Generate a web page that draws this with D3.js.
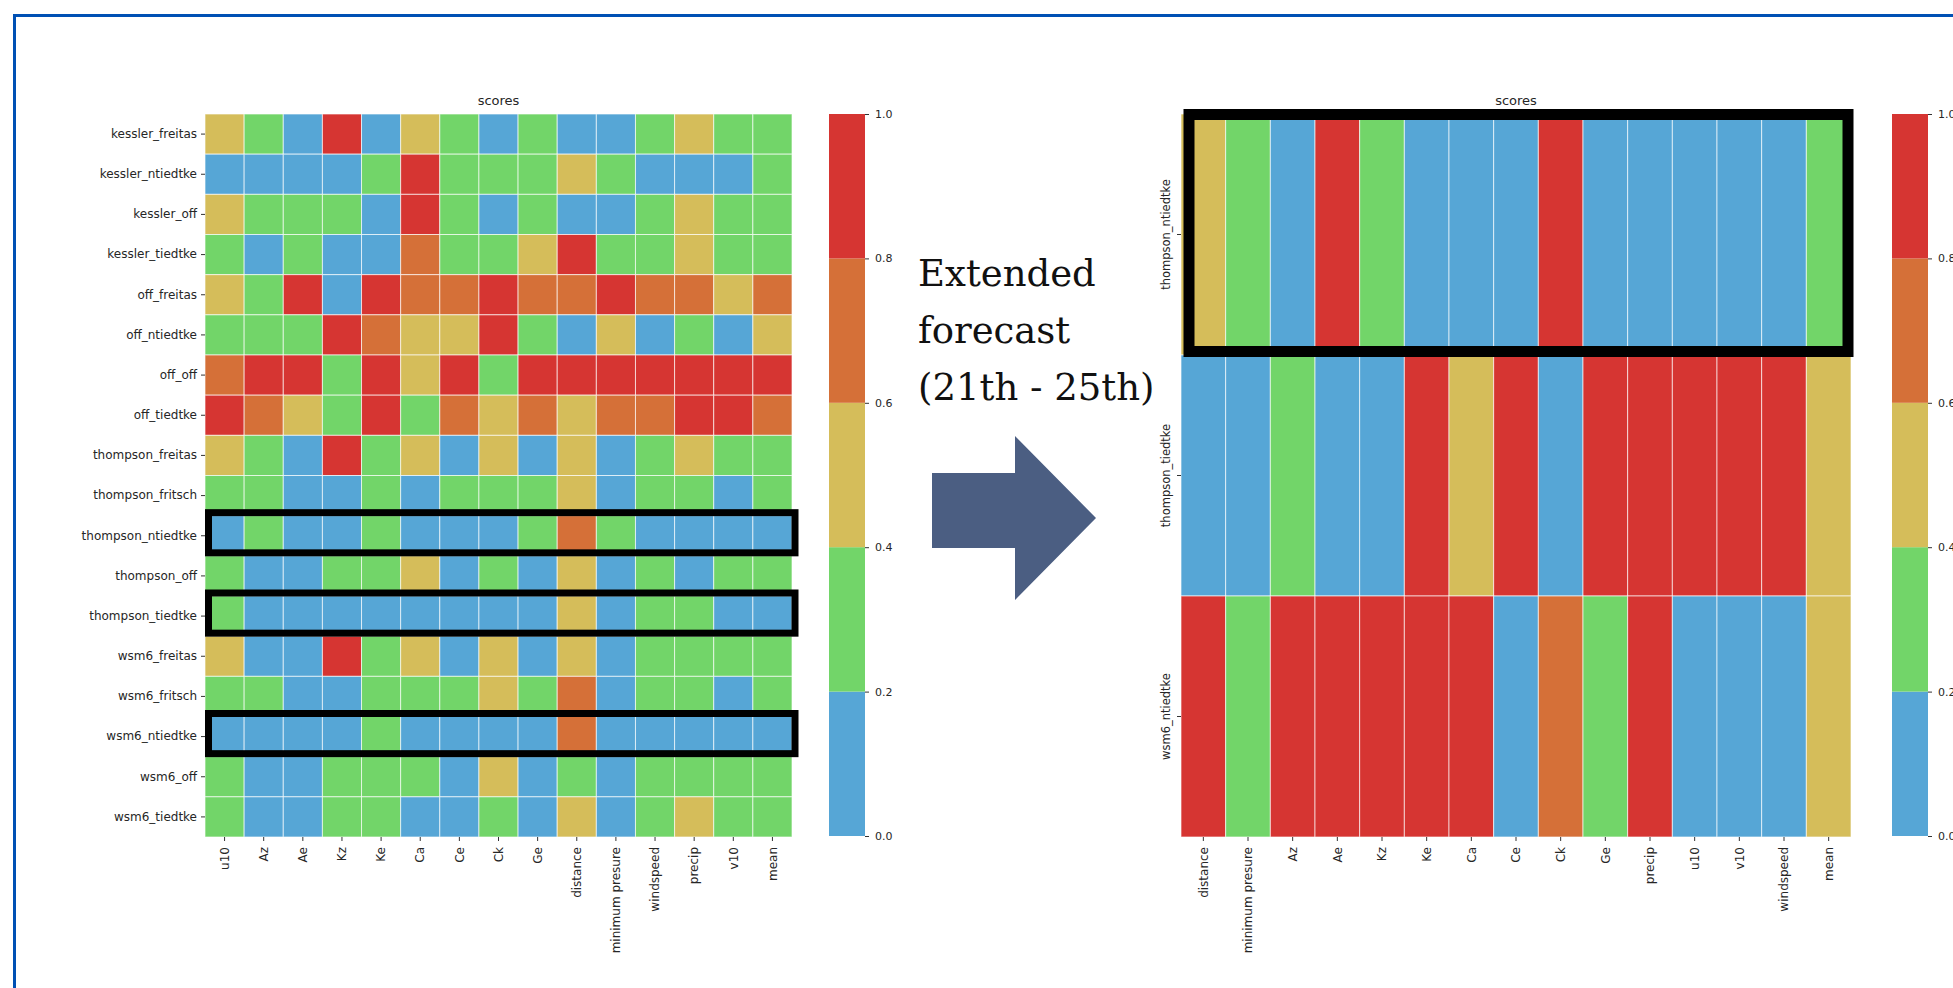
<!DOCTYPE html>
<html>
<head>
<meta charset="utf-8">
<script src="https://cdn.jsdelivr.net/npm/d3@7"></script>
<style>
  html, body { margin: 0; padding: 0; background: #fff; overflow: hidden; }
  svg { display: block; }
  .tick text { font-family: "DejaVu Sans", sans-serif; fill: #262626; }
  .tick line { stroke: #333; }
</style>
</head>
<body>
<svg id="chart"></svg>
<script>
// bins: B < 0.2 <= G < 0.4 <= Y < 0.6 <= O < 0.8 <= R
let leftCols = ['u10', 'Az', 'Ae', 'Kz', 'Ke', 'Ca', 'Ce', 'Ck', 'Ge', 'distance',
  'minimum presure', 'windspeed', 'precip', 'v10', 'mean']
let leftRows = ['kessler_freitas', 'kessler_ntiedtke', 'kessler_off', 'kessler_tiedtke',
  'off_freitas', 'off_ntiedtke', 'off_off', 'off_tiedtke', 'thompson_freitas',
  'thompson_fritsch', 'thompson_ntiedtke', 'thompson_off', 'thompson_tiedtke',
  'wsm6_freitas', 'wsm6_fritsch', 'wsm6_ntiedtke', 'wsm6_off', 'wsm6_tiedtke']
let leftScores = [
  [0.5, 0.3, 0.1, 0.9, 0.1, 0.5, 0.3, 0.1, 0.3, 0.1, 0.1, 0.3, 0.5, 0.3, 0.3],
  [0.1, 0.1, 0.1, 0.1, 0.3, 0.9, 0.3, 0.3, 0.3, 0.5, 0.3, 0.1, 0.1, 0.1, 0.3],
  [0.5, 0.3, 0.3, 0.3, 0.1, 0.9, 0.3, 0.1, 0.3, 0.1, 0.1, 0.3, 0.5, 0.3, 0.3],
  [0.3, 0.1, 0.3, 0.1, 0.1, 0.7, 0.3, 0.3, 0.5, 0.9, 0.3, 0.3, 0.5, 0.3, 0.3],
  [0.5, 0.3, 0.9, 0.1, 0.9, 0.7, 0.7, 0.9, 0.7, 0.7, 0.9, 0.7, 0.7, 0.5, 0.7],
  [0.3, 0.3, 0.3, 0.9, 0.7, 0.5, 0.5, 0.9, 0.3, 0.1, 0.5, 0.1, 0.3, 0.1, 0.5],
  [0.7, 0.9, 0.9, 0.3, 0.9, 0.5, 0.9, 0.3, 0.9, 0.9, 0.9, 0.9, 0.9, 0.9, 0.9],
  [0.9, 0.7, 0.5, 0.3, 0.9, 0.3, 0.7, 0.5, 0.7, 0.5, 0.7, 0.7, 0.9, 0.9, 0.7],
  [0.5, 0.3, 0.1, 0.9, 0.3, 0.5, 0.1, 0.5, 0.1, 0.5, 0.1, 0.3, 0.5, 0.3, 0.3],
  [0.3, 0.3, 0.1, 0.1, 0.3, 0.1, 0.3, 0.3, 0.3, 0.5, 0.1, 0.3, 0.3, 0.1, 0.3],
  [0.1, 0.3, 0.1, 0.1, 0.3, 0.1, 0.1, 0.1, 0.3, 0.7, 0.3, 0.1, 0.1, 0.1, 0.1],
  [0.3, 0.1, 0.1, 0.3, 0.3, 0.5, 0.1, 0.3, 0.1, 0.5, 0.1, 0.3, 0.1, 0.3, 0.3],
  [0.3, 0.1, 0.1, 0.1, 0.1, 0.1, 0.1, 0.1, 0.1, 0.5, 0.1, 0.3, 0.3, 0.1, 0.1],
  [0.5, 0.1, 0.1, 0.9, 0.3, 0.5, 0.1, 0.5, 0.1, 0.5, 0.1, 0.3, 0.3, 0.3, 0.3],
  [0.3, 0.3, 0.1, 0.1, 0.3, 0.3, 0.3, 0.5, 0.3, 0.7, 0.1, 0.3, 0.3, 0.1, 0.3],
  [0.1, 0.1, 0.1, 0.1, 0.3, 0.1, 0.1, 0.1, 0.1, 0.7, 0.1, 0.1, 0.1, 0.1, 0.1],
  [0.3, 0.1, 0.1, 0.3, 0.3, 0.3, 0.1, 0.5, 0.1, 0.3, 0.1, 0.3, 0.3, 0.3, 0.3],
  [0.3, 0.1, 0.1, 0.3, 0.3, 0.1, 0.1, 0.3, 0.1, 0.5, 0.1, 0.3, 0.5, 0.3, 0.3]
]
let leftBoxed = ['thompson_ntiedtke', 'thompson_tiedtke', 'wsm6_ntiedtke']

let rightCols = ['distance', 'minimum presure', 'Az', 'Ae', 'Kz', 'Ke', 'Ca', 'Ce', 'Ck',
  'Ge', 'precip', 'u10', 'v10', 'windspeed', 'mean']
let rightRows = ['thompson_ntiedtke', 'thompson_tiedtke', 'wsm6_ntiedtke']
let rightScores = [
  [0.5, 0.3, 0.1, 0.9, 0.3, 0.1, 0.1, 0.1, 0.9, 0.1, 0.1, 0.1, 0.1, 0.1, 0.3],
  [0.1, 0.1, 0.3, 0.1, 0.1, 0.9, 0.5, 0.9, 0.1, 0.9, 0.9, 0.9, 0.9, 0.9, 0.5],
  [0.9, 0.3, 0.9, 0.9, 0.9, 0.9, 0.9, 0.1, 0.7, 0.3, 0.9, 0.1, 0.1, 0.1, 0.5]
]
let rightBoxed = ['thompson_ntiedtke']

let binEdges = [0.2, 0.4, 0.6, 0.8]
let binColors = ['#56a6d6', '#72d569', '#d5bd5a', '#d57038', '#d63532']
let cbarTicks = [0, 0.2, 0.4, 0.6, 0.8, 1.0]
let arrowText = ['Extended', 'forecast', '(21th - 25th)']

const W = 1953, H = 988
let svg = d3.select('#chart').attr('width', W).attr('height', H)
let color = d3.scaleThreshold().domain(binEdges).range(binColors)

// frame, only top and left edges visible
svg.append('rect').attr('x', 13).attr('y', 14).attr('width', W).attr('height', 3).attr('fill', '#0050b4')
svg.append('rect').attr('x', 13).attr('y', 14).attr('width', 3).attr('height', H).attr('fill', '#0050b4')

function heatmap(opts) {
  let x = d3.scaleBand().domain(opts.cols).range([opts.x0, opts.x1])
  let y = d3.scaleBand().domain(opts.rows).range([opts.y0, opts.y1])
  let g = svg.append('g')

  let cells = []
  opts.rows.forEach((r, i) => opts.cols.forEach((c, j) => cells.push({ r: r, c: c, v: opts.values[i][j] })))

  g.selectAll('rect.cell').data(cells).enter().append('rect')
    .attr('class', 'cell')
    .attr('x', d => x(d.c))
    .attr('y', d => y(d.r))
    .attr('width', x.bandwidth())
    .attr('height', y.bandwidth())
    .attr('fill', d => color(d.v))
    .attr('stroke', 'rgba(255,255,255,0.65)')
    .attr('stroke-width', 1)

  // title
  g.append('text')
    .attr('x', (opts.x0 + opts.x1) / 2)
    .attr('y', opts.y0 - 9)
    .attr('text-anchor', 'middle')
    .style('font-family', 'DejaVu Sans, sans-serif')
    .style('font-size', '13px')
    .attr('fill', '#262626')
    .text('scores')

  // x axis
  let xa = g.append('g')
    .attr('transform', `translate(0,${opts.y1})`)
    .call(d3.axisBottom(x).tickSize(4).tickPadding(5))
  xa.select('.domain').remove()
  xa.selectAll('text')
    .style('font-size', '12px')
    .attr('text-anchor', 'end')
    .attr('transform', 'rotate(-90)')
    .attr('x', -10)
    .attr('y', 0)
    .attr('dy', '0.35em')

  // y axis
  let ya = g.append('g')
    .attr('transform', `translate(${opts.x0},0)`)
    .call(d3.axisLeft(y).tickSize(4).tickPadding(4))
  ya.select('.domain').remove()
  if (opts.rotateY) {
    ya.selectAll('text')
      .style('font-size', '11.5px')
      .attr('text-anchor', 'middle')
      .attr('x', 0)
      .attr('dy', 0)
      .attr('transform', 'translate(-11,0) rotate(-90)')
  } else {
    ya.selectAll('text').style('font-size', '12px')
  }

  // highlight boxes
  g.selectAll('rect.box').data(opts.boxed).enter().append('rect')
    .attr('class', 'box')
    .attr('x', opts.x0 + opts.boxInset[0])
    .attr('y', d => y(d) + opts.boxInset[1])
    .attr('width', opts.x1 - opts.x0 + opts.boxInset[2])
    .attr('height', y.bandwidth() + opts.boxInset[3])
    .attr('fill', 'none')
    .attr('stroke', '#000')
    .attr('stroke-width', opts.boxStroke)
}

function colorbar(x0, y0, y1) {
  let yc = d3.scaleLinear().domain([0, 1]).range([y1, y0])
  let g = svg.append('g')
  let bins = d3.pairs([0].concat(binEdges).concat([1]))
  g.selectAll('rect').data(bins).enter().append('rect')
    .attr('x', x0)
    .attr('y', d => yc(d[1]))
    .attr('width', 36)
    .attr('height', d => yc(d[0]) - yc(d[1]))
    .attr('fill', d => color((d[0] + d[1]) / 2))
  let ax = g.append('g')
    .attr('transform', `translate(${x0 + 36},0)`)
    .call(d3.axisRight(yc).tickValues(cbarTicks).tickFormat(d3.format('.1f')).tickSize(4).tickPadding(6))
  ax.select('.domain').remove()
  ax.selectAll('text').style('font-size', '11px')
}

heatmap({
  cols: leftCols, rows: leftRows, values: leftScores, boxed: leftBoxed,
  x0: 205, x1: 792, y0: 114, y1: 837,
  boxInset: [3.5, -3, -0.5, 0], boxStroke: 7, rotateY: false
})
colorbar(829, 114, 836)

heatmap({
  cols: rightCols, rows: rightRows, values: rightScores, boxed: rightBoxed,
  x0: 1181, x1: 1851, y0: 114, y1: 837,
  boxInset: [8, 0.5, -11, -4], boxStroke: 11, rotateY: true
})
colorbar(1892, 114, 836)

// arrow between the two charts
svg.append('path')
  .attr('d', d3.line()([[932, 473], [1015, 473], [1015, 436], [1096, 518], [1015, 600], [1015, 548], [932, 548]]) + 'Z')
  .attr('fill', '#4b5e82')

svg.append('g').selectAll('text').data(arrowText).enter().append('text')
  .attr('x', 918)
  .attr('y', (d, i) => 286 + i * 57)
  .style('font-family', 'DejaVu Serif, serif')
  .style('font-size', '37px')
  .attr('fill', '#111')
  .text(d => d)
</script>
</body>
</html>
